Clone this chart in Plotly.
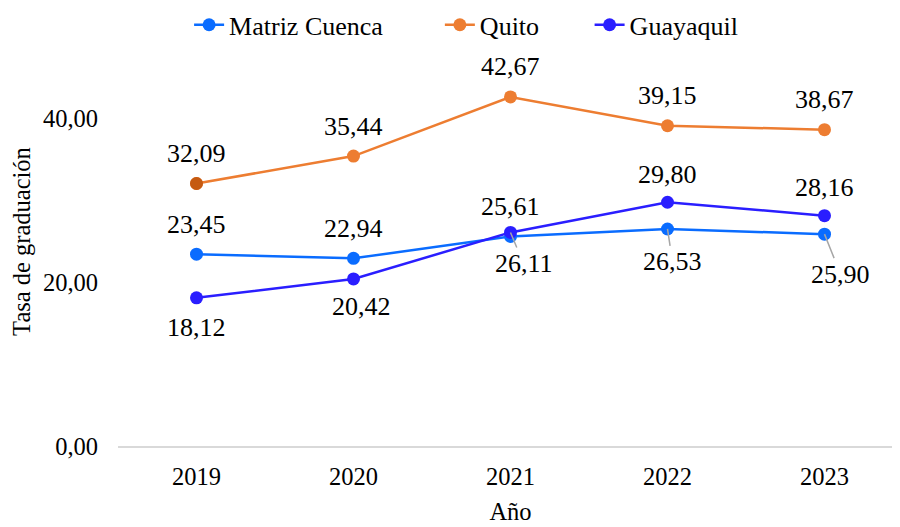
import plotly.graph_objects as go

years = ["2019", "2020", "2021", "2022", "2023"]
matriz = [23.45, 22.94, 25.61, 26.53, 25.90]
quito = [32.09, 35.44, 42.67, 39.15, 38.67]
guayaquil = [18.12, 20.42, 26.11, 29.80, 28.16]

c_matriz = "#0A6CFF"
c_quito = "#ED7D31"
c_quito_first = "#C55A11"
c_guaya = "#2A1EFF"
FONT = "Liberation Serif"

fig = go.Figure()
fig.add_trace(go.Scatter(x=years, y=matriz, name="Matriz Cuenca        ", mode="lines+markers",
                         line=dict(color=c_matriz, width=2.5), marker=dict(size=13, color=c_matriz)))
fig.add_trace(go.Scatter(x=years, y=quito, name="Quito       ", mode="lines+markers",
                         line=dict(color=c_quito, width=2.5), marker=dict(size=13, color=c_quito)))
fig.add_trace(go.Scatter(x=years[:1], y=quito[:1], mode="markers", showlegend=False,
                         marker=dict(size=13, color=c_quito_first), hoverinfo="skip"))
fig.add_trace(go.Scatter(x=years, y=guayaquil, name="Guayaquil", mode="lines+markers",
                         line=dict(color=c_guaya, width=2.5), marker=dict(size=13, color=c_guaya)))

def fmt(v):
    return f"{v:.2f}".replace(".", ",")

# label offsets in pixels (dx, dy); dy positive = up; leader labels use gray line
quito_off = [(0, 30), (0, 30), (0, 30), (0, 30), (0, 30)]
matriz_off = [(0, 30), (0, 30), (0, 30), None, None]
matriz_lead = {3: (5, 33), 4: (16, 40)}
guaya_off = [(0, -30), (8, -28), None, (0, 28), (0, 28)]
guaya_lead = {2: (13, 31)}

ann = []
for vals, offs, leads in [(quito, quito_off, {}), (matriz, matriz_off, matriz_lead),
                          (guayaquil, guaya_off, guaya_lead)]:
    for i, v in enumerate(vals):
        if offs[i] is not None:
            dx, dy = offs[i]
            ann.append(dict(x=i, y=v, xref="x", yref="y", text=fmt(v), showarrow=False,
                            xshift=dx, yshift=dy, font=dict(size=26, color="#000000", family=FONT)))
        else:
            dx, dy = leads[i]
            ann.append(dict(x=i, y=v, xref="x", yref="y", text=fmt(v), showarrow=True, arrowhead=0,
                            arrowwidth=1.5, arrowcolor="#A6A6A6", ax=dx, ay=dy, standoff=0,
                            font=dict(size=26, color="#000000", family=FONT)))

fig.update_layout(
    width=900, height=527,
    margin=dict(l=110, r=5, t=29, b=89, autoexpand=False),
    paper_bgcolor="white", plot_bgcolor="white",
    separators=",.",
    font=dict(family=FONT, size=24, color="#000000"),
    showlegend=True,
    legend=dict(orientation="h", xref="container", x=0.509, xanchor="center",
                yref="container", y=0.968, yanchor="middle",
                font=dict(size=26, family=FONT), bgcolor="rgba(0,0,0,0)"),
    annotations=ann,
    xaxis=dict(type="category", range=[-0.5, 4.5], showgrid=False, showline=True,
               linecolor="#D9D9D9", linewidth=1.5, ticks="", zeroline=False,
               ticklabelstandoff=8, automargin=False,
               tickfont=dict(size=24.5, family=FONT),
               title=dict(text="Año", font=dict(size=24.5, family=FONT), standoff=14)),
    yaxis=dict(range=[0, 50], tickvals=[0, 20, 40], tickformat=".2f", showgrid=False,
               showline=False, zeroline=False, ticks="", ticklabelstandoff=19, automargin=False,
               tickfont=dict(size=24.5, family=FONT),
               title=dict(text="Tasa de graduación", font=dict(size=24.5, family=FONT), standoff=7)),
)

fig.write_html("out.html")
